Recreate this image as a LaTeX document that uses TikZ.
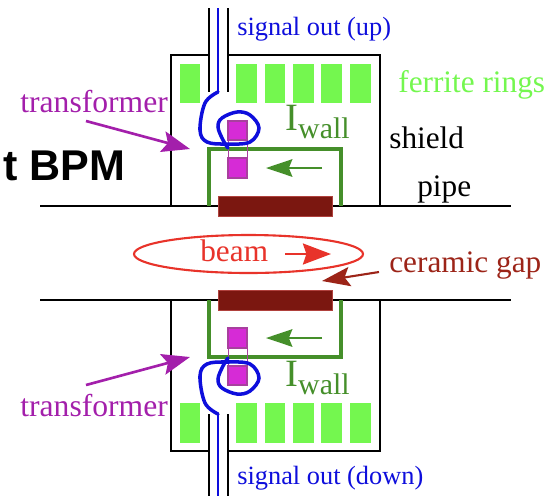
\documentclass[tikz,border=0pt]{standalone}
\usepackage{fontspec}
\setmainfont{Liberation Serif}
\setsansfont{Liberation Sans}
\usetikzlibrary{arrows.meta}
\definecolor{ferrite}{HTML}{74F74F}
\definecolor{wallgreen}{HTML}{458F2A}
\definecolor{coremag}{HTML}{D62BD6}
\definecolor{coreedge}{HTML}{A8409E}
\definecolor{xfmr}{HTML}{A31FAB}
\definecolor{signalblue}{HTML}{0E0EDC}
\definecolor{gapred}{HTML}{7B1710}
\definecolor{gaptext}{HTML}{9C2418}
\definecolor{beamred}{HTML}{E8332A}
\tikzset{
  lab/.style={font=\fontsize{17.8}{20}\selectfont, inner sep=0pt, anchor=base west},
  ring/.style={fill=ferrite, draw=none},
  core/.style={fill=coremag, draw=coreedge, line width=0.6pt},
  xfarrow/.style={-{Stealth[length=16pt,width=12pt,inset=3pt]}, draw=xfmr, line width=1.5pt},
}
% one half of the monitor, drawn above the pipe
\newcommand{\halfbpm}{%
  \draw[line width=1pt] (171,206) -- (171,55) -- (209,55);
  \draw[line width=1pt] (228,55) -- (380,55) -- (380,206);
  \draw[line width=1pt] (209,8) -- (209,92);
  \draw[line width=1pt] (228,8) -- (228,92);
  \foreach \x in {179.5,236,264.5,293,321,350}
    \fill[ring] (\x,63.5) rectangle ++(20.5,39.5);
  \draw[wallgreen, line width=2pt] (209,206) -- (209,149) -- (341,149) -- (341,206);
  \draw[coreedge, line width=0.5pt] (228,140) rectangle (247,158);
  \filldraw[core] (228,121) rectangle (247,140);
  \filldraw[core] (228,158) rectangle (247,178);
  \draw[-{Stealth[length=15pt,width=10pt,inset=2pt]}, wallgreen, line width=1.1pt] (322,168) -- (266,168);
  \draw[signalblue, line width=1pt] (218,8) -- (218,92);
  \draw[signalblue, line width=2pt, line cap=round] plot[smooth, tension=0.6] coordinates
    {(218,92) (205,103) (200,130) (207,142) (227,144) (250,142) (259,128) (250,115)
     (237,112) (222,118) (218,127) (223,140) (228,148)};
  \filldraw[fill=gapred, draw=gapred!75!red!80!white, line width=0.5pt] (218,196) rectangle (332,216);
}
\begin{document}
\begin{tikzpicture}[x=0.02cm, y=-0.02cm]
  \useasboundingbox (0,0) rectangle (551,495);
  \draw[line width=1pt] (40,206) -- (511,206);
  \draw[line width=1pt] (40,300) -- (511,300);
  \halfbpm
  \begin{scope}[shift={(0,506)}, yscale=-1]
    \halfbpm
  \end{scope}
  % beam
  \draw[beamred, line width=1.2pt] (248.5,254) ellipse (114.5 and 19);
  \draw[-{Stealth[length=16pt,width=12pt,inset=2pt]}, beamred, line width=1.1pt] (285,254) -- (331,254);
  \draw[-{Stealth[length=16pt,width=11pt,inset=3pt]}, gaptext, line width=1.2pt] (379,272) -- (322,281);
  % transformer arrows
  \coordinate (T1a) at (86,121);
  \coordinate (T1b) at (190,149);
  \coordinate (T2a) at (86,385);
  \coordinate (T2b) at (190,357);
  \draw[xfarrow] (T1a) -- (T1b);
  \draw[xfarrow] (T2a) -- (T2b);
  % labels
  \node[lab, text=xfmr, font=\fontsize{18}{20}\selectfont] (trup) at (20,112) {transformer};
  \node[lab, text=xfmr, font=\fontsize{18}{20}\selectfont] (trdown) at (20,416) {transformer};
  \node[lab, text=signalblue, font=\fontsize{15}{18}\selectfont] (sigup) at (237,35) {signal out (up)};
  \node[lab, text=signalblue, font=\fontsize{15}{18}\selectfont] (sigdown) at (237,484) {signal out (down)};
  \node[lab, text=ferrite] (rings) at (398,92) {ferrite rings};
  \node[lab] (shield) at (389,148) {shield};
  \node[lab] (pipe) at (417,196) {pipe};
  \node[lab, text=gaptext] (gap) at (389,272) {ceramic gap};
  \node[lab, text=beamred] (beam) at (200,261) {beam};
  \node[lab, text=wallgreen] (iwallup) at (285,130) {\fontsize{22}{24}\selectfont I\raisebox{-5pt}{\fontsize{17}{20}\selectfont wall}};
  \node[lab, text=wallgreen] (iwalldown) at (285,386) {\fontsize{22}{24}\selectfont I\raisebox{-5pt}{\fontsize{17}{20}\selectfont wall}};
  \node[lab, font=\fontsize{24.5}{28}\selectfont\sffamily\bfseries] (title) at (3,180) {t BPM};
\end{tikzpicture}
\end{document}
